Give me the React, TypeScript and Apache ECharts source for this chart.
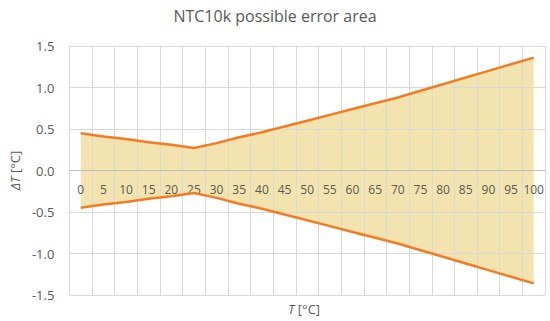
import React, { useEffect, useRef } from "react";
import * as echarts from "echarts";

const categories = ["0","5","10","15","20","25","30","35","40","45","50","55","60","65","70","75","80","85","90","95","100"];
const upperError = [0.45,0.41,0.38,0.34,0.31,0.27,0.33,0.40,0.46,0.53,0.60,0.67,0.74,0.81,0.88,0.96,1.04,1.12,1.20,1.28,1.36];
const lowerError = [-0.45,-0.41,-0.38,-0.34,-0.31,-0.27,-0.33,-0.40,-0.46,-0.53,-0.60,-0.67,-0.74,-0.81,-0.88,-0.96,-1.04,-1.12,-1.20,-1.28,-1.36];

const FONT = "'Open Sans', 'Noto Sans', sans-serif";
const TEXT = "#595959";
const GRID = "#d9d9d9";
const ORANGE = "#F47B20";
const FILL = "#F3E3AE";

export default function App() {
  const ref = useRef<HTMLDivElement>(null);
  useEffect(() => {
    if (!ref.current) return;
    const chart = echarts.init(ref.current, null, { renderer: "svg" });
    const band = upperError.map((u, i) => +(u - lowerError[i]).toFixed(4));
    chart.setOption({
      animation: false,
      backgroundColor: "#ffffff",
      textStyle: { fontFamily: FONT },
      title: {
        text: "NTC10k possible error area",
        left: "center",
        top: 3,
        textStyle: { color: TEXT, fontSize: 16, fontWeight: "normal", fontFamily: FONT },
      },
      grid: { left: 64, right: 5, top: 46, bottom: 26, containLabel: false },
      xAxis: {
        type: "category",
        data: categories,
        boundaryGap: true,
        z: 3,
        axisLine: { show: false, onZero: false },
        axisTick: { show: false },
        axisLabel: { color: TEXT, fontSize: 12, margin: -112, fontFamily: FONT, interval: 0, hideOverlap: false },
        splitLine: { show: true, interval: 0, lineStyle: { color: GRID, width: 1 } },
      },
      yAxis: {
        type: "value",
        min: -1.5,
        max: 1.5,
        interval: 0.5,
        z: 3,
        axisLine: { show: false },
        axisTick: { show: false },
        axisLabel: {
          color: TEXT,
          fontSize: 13,
          margin: 15,
          fontFamily: FONT,
          formatter: (v: number) => v.toFixed(1),
        },
        splitLine: { show: true, lineStyle: { color: GRID, width: 1 } },
        name: "{i|ΔT} [°C]",
        nameLocation: "middle",
        nameGap: 41,
        nameRotate: 90,
        nameTextStyle: {
          color: TEXT,
          fontSize: 13,
          fontFamily: FONT,
          rich: { i: { fontStyle: "italic", color: TEXT, fontSize: 13, fontFamily: FONT } },
        },
      },
      graphic: [
        {
          type: "text",
          x: 304,
          y: 309,
          style: {
            text: "{i|T} [°C]",
            fill: TEXT,
            fontSize: 13,
            fontFamily: FONT,
            align: "center",
            verticalAlign: "middle",
            rich: { i: { fontStyle: "italic", fill: TEXT, fontSize: 13, fontFamily: FONT } },
          },
        },
      ],
      series: [
        {
          name: "base",
          type: "line",
          data: lowerError,
          stack: "err",
          stackStrategy: "all",
          symbol: "none",
          lineStyle: { width: 0, opacity: 0 },
          z: 1,
          silent: true,
        },
        {
          name: "band",
          type: "line",
          data: band,
          stack: "err",
          stackStrategy: "all",
          symbol: "none",
          lineStyle: { width: 0, opacity: 0 },
          areaStyle: { color: FILL, opacity: 1 },
          z: 1,
          silent: true,
        },
        {
          name: "upper",
          type: "line",
          data: upperError,
          symbol: "none",
          lineStyle: { color: ORANGE, width: 2.5 },
          z: 6,
          markLine: {
            silent: true,
            symbol: "none",
            label: { show: false },
            lineStyle: { color: "#bfbfbf", width: 1, type: "solid" },
            data: [{ yAxis: 0 }],
            z: 4,
          },
        },
        {
          name: "lower",
          type: "line",
          data: lowerError,
          symbol: "none",
          lineStyle: { color: ORANGE, width: 2.5 },
          z: 6,
        },
      ],
    });
    return () => chart.dispose();
  }, []);
  return (
    <div
      ref={ref}
      style={{ position: "fixed", left: 0, top: 0, width: 550, height: 321, background: "#fff" }}
    />
  );
}
